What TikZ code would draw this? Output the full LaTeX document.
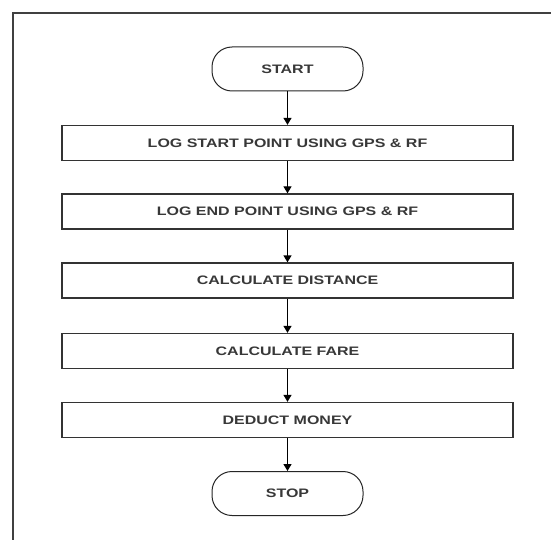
\documentclass[tikz,border=0pt]{standalone}
\usepackage{fontspec}
\setmainfont{Liberation Sans}
\newfontfamily\lblfont[FakeStretch=1.3]{Liberation Sans}
\usetikzlibrary{arrows.meta}
\begin{document}
\begin{tikzpicture}[x=1pt,y=-1pt,
  every node/.style={font=\lblfont\fontsize{12.3}{14}\selectfont\bfseries, text=black!78},
  stepbox/.style={draw=black!80, line width=1.3pt, minimum width=451pt, minimum height=35pt, inner sep=0pt},
  term/.style={draw=black!85, line width=1pt, rounded corners=20pt, minimum width=151pt, minimum height=44pt, inner sep=0pt},
  conn/.style={draw=black, line width=1.3pt, -{Triangle[length=7pt,width=8pt]}}]
\useasboundingbox (0,0) rectangle (551,540);
\fill[white] (0,0) rectangle (551,540);
\draw[black!75, line width=1.5pt] (551,13) -- (13,13) -- (13,540);
\node[term] (start) at (287.5,69) {START};
\node[stepbox] (b1) at (287.5,143) {LOG START POINT USING GPS \& RF};
\node[stepbox] (b2) at (287.5,211.5) {LOG END POINT USING GPS \& RF};
\node[stepbox] (b3) at (287.5,280.5) {CALCULATE DISTANCE};
\node[stepbox] (b4) at (287.5,351) {CALCULATE FARE};
\node[stepbox] (b5) at (287.5,420) {DEDUCT MONEY};
\node[term] (stop) at (287.5,493.5) {STOP};
\draw[conn] (start) -- (b1);
\draw[conn] (b1) -- (b2);
\draw[conn] (b2) -- (b3);
\draw[conn] (b3) -- (b4);
\draw[conn] (b4) -- (b5);
\draw[conn] (b5) -- (stop);
\end{tikzpicture}
\end{document}
